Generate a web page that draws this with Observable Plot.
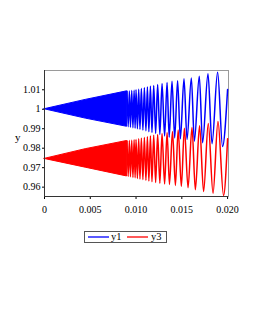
<!DOCTYPE html>
<html><head><meta charset="utf-8">
<script src="https://cdn.jsdelivr.net/npm/d3@7"></script>
<script src="https://cdn.jsdelivr.net/npm/@observablehq/plot@0.6"></script>
<style>
body{margin:0;background:#fff;font-family:"Liberation Serif",serif;}
#wrap{position:relative;width:257px;height:332px;}
#legend{position:absolute;left:84px;top:231px;width:81px;height:10px;border:1px solid #555;font-size:10.5px;line-height:10px;color:#000;}
#legend span.l{position:absolute;top:4px;height:2px;}
#legend span.t{position:absolute;top:0px;}
</style></head><body>
<div id="wrap"><div id="chart"></div>
<div id="legend">
<span class="l" style="left:3px;width:21px;background:#5a5aff"></span><span class="t" style="left:26px">y1</span>
<span class="l" style="left:42px;width:21px;background:#ff5a5a"></span><span class="t" style="left:66px">y3</span>
</div></div>
<script>
// dense-region envelopes
const envT    = [0, 0.0045, 0.00902];
const y1Top   = [1.0, 1.0048, 1.0092];
const y1Bot   = [1.0, 0.9952, 0.9910];
const y3Top   = [0.9745, 0.9795, 0.9837];
const y3Bot   = [0.9745, 0.9700, 0.9655];
// resolved oscillation extrema (peak, trough, ...)
const y1T = [0.00902,0.00914,0.00927,0.00939,0.00953,0.00966,0.00979,0.00990,0.01000,0.01015,0.01029,0.01043,0.01058,0.01075,0.01091,0.01108,0.01124,0.01140,0.01157,0.01174,0.01193,0.01214,0.01236,0.01260,0.01284,0.01312,0.01339,0.01362,0.01393,0.01422,0.01454,0.01484,0.01524,0.01557,0.01604,0.01637,0.01691,0.01727,0.01786,0.01830,0.01891,0.01945,0.02000];
const y1V = [1.0092,0.9910,1.0094,0.9908,1.0096,0.9905,1.0098,0.9903,1.0100,0.9900,1.0103,0.9897,1.0106,0.9893,1.0110,0.9889,1.0114,0.9885,1.0118,0.9881,1.0122,0.9876,1.0127,0.9870,1.0132,0.9863,1.0138,0.9856,1.0144,0.9853,1.0147,0.9848,1.0156,0.9845,1.0161,0.9836,1.0169,0.9828,1.0182,0.9823,1.0190,0.9809,1.0101];
const y3T = [0.00902,0.00914,0.00927,0.00939,0.00953,0.00966,0.00979,0.00990,0.01000,0.01015,0.01029,0.01043,0.01058,0.01075,0.01091,0.01108,0.01124,0.01140,0.01157,0.01174,0.01193,0.01214,0.01236,0.01260,0.01284,0.01312,0.01339,0.01365,0.01398,0.01430,0.01460,0.01495,0.01528,0.01568,0.01611,0.01648,0.01694,0.01738,0.01789,0.01841,0.01895,0.01956,0.02000];
const y3V = [0.9837,0.9655,0.9839,0.9653,0.9841,0.9650,0.9843,0.9648,0.9845,0.9645,0.9848,0.9642,0.9851,0.9639,0.9855,0.9635,0.9859,0.9632,0.9863,0.9628,0.9867,0.9624,0.9871,0.9620,0.9875,0.9616,0.9881,0.9614,0.9886,0.9609,0.9894,0.9604,0.9903,0.9597,0.9906,0.9587,0.9915,0.9578,0.9927,0.9569,0.9937,0.9557,0.9848];
const xTicks = [0, 0.005, 0.01, 0.015, 0.02];
const xTickLabels = ["0", "0.005", "0.010", "0.015", "0.020"];
const yTicks = [0.96, 0.97, 0.98, 0.99, 1, 1.01];
const yTickLabels = ["0.96", "0.97", "0.98", "0.99", "1", "1.01"];
const yLabel = ["y"];

const env = envT.map((t,i)=>({t, b1:y1Bot[i], t1:y1Top[i], b3:y3Bot[i], t3:y3Top[i]}));
const s1 = y1T.map((t,i)=>({t, v:y1V[i]}));
const s3 = y3T.map((t,i)=>({t, v:y3V[i]}));
const BLUE="#0000ff", RED="#ff0000";
const yDom=[0.9552,1.0199];

const chart = Plot.plot({
  width: 257, height: 215,
  marginTop: 70, marginBottom: 19, marginLeft: 44, marginRight: 29,
  style: {fontFamily: '"Liberation Serif", serif', fontSize: "10px", color: "#000", background: "#fff"},
  x: {domain: [0, 0.0201], ticks: xTicks, tickFormat: d => xTickLabels[xTicks.indexOf(d)], tickSize: 3, label: null},
  y: {domain: yDom, ticks: yTicks, tickFormat: d => yTickLabels[yTicks.indexOf(d)], tickSize: 2, tickPadding: 2, label: null},
  marks: [
    Plot.frame({stroke: "#9a9a9a"}),
    Plot.areaY(env, {x: "t", y1: "b1", y2: "t1", fill: BLUE, stroke: BLUE, strokeWidth: 1}),
    Plot.areaY(env, {x: "t", y1: "b3", y2: "t3", fill: RED, stroke: RED, strokeWidth: 1}),
    Plot.line(s1, {x: "t", y: "v", stroke: BLUE, strokeWidth: 1.5, curve: "monotone-x"}),
    Plot.line(s3, {x: "t", y: "v", stroke: RED, strokeWidth: 1.5, curve: "monotone-x"}),
    Plot.ruleX([0], {stroke: "#333"}),
    Plot.ruleY([yDom[0]], {stroke: "#333"}),
    Plot.text(yLabel, {frameAnchor: "left", textAnchor: "end", dx: -24, dy: 4, text: d => d, fontSize: 11})
  ]
});
document.getElementById("chart").appendChild(chart);
</script></body></html>
